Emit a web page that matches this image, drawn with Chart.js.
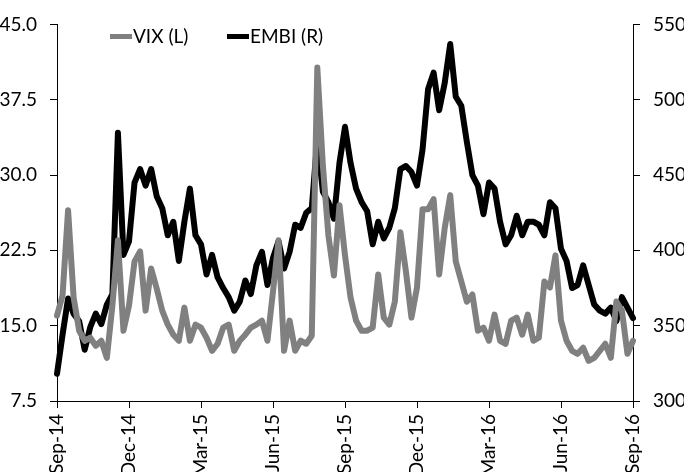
<!DOCTYPE html>
<html>
<head>
<meta charset="utf-8">
<script src="https://cdn.jsdelivr.net/npm/chart.js@4/dist/chart.umd.min.js"></script>
<style>
    html, body { margin: 0; padding: 0; background: #fff; }
    #wrap { width: 684px; height: 472px; }
</style>
</head>
<body>
<div id="wrap"><canvas id="chart" width="684" height="472"></canvas></div>
<script>
// Weekly readings, Sep-14 to Sep-16 (105 weeks)
var vixValues = [
    16, 18, 26.5, 17.8, 14.5, 13.5, 13.8, 13, 13.5, 11.8,
    17, 23.5, 14.5, 17, 21.4, 22.4, 16.5, 20.7, 18.7, 16.5,
    15.1, 14.1, 13.5, 16.8, 13.5, 15.1, 14.8, 13.8, 12.5, 13.2,
    14.8, 15.1, 12.5, 13.5, 14.1, 14.8, 15.1, 15.5, 13.5, 18.4,
    23.5, 12.5, 15.5, 12.5, 13.5, 13.2, 14, 40.7, 31, 24,
    20, 27, 22, 17.8, 15.5, 14.5, 14.5, 14.8, 20.1, 15.8,
    15.1, 17.4, 24.3, 20.4, 15.8, 18.8, 26.6, 26.6, 27.6, 20.1,
    24.7, 28, 21.4, 19.4, 17.4, 18.1, 14.5, 14.8, 13.5, 16.1,
    13.5, 13.2, 15.5, 15.8, 14.1, 16.1, 13.5, 13.8, 19.4, 18.8,
    22, 15.5, 13.5, 12.5, 12.2, 12.8, 11.5, 11.8, 12.5, 13.2,
    11.8, 17.4, 16.5, 12.2, 13.5
];
var embiValues = [
    318, 344, 368, 358, 353, 334, 349, 358, 351, 364,
    371, 478, 397, 406, 445, 454, 443, 454, 436, 428,
    410, 419, 393, 419, 441, 410, 404, 384, 397, 382,
    375, 369, 360, 366, 380, 371, 390, 399, 377, 395,
    406, 388, 399, 417, 415, 425, 428, 474, 439, 432,
    421, 458, 482, 458, 441, 432, 426, 404, 419, 408,
    415, 428, 454, 456, 452, 443, 467, 507, 518, 493,
    511, 537, 502, 496, 472, 450, 443, 424, 445, 441,
    419, 404, 410, 423, 410, 419, 419, 417, 410, 432,
    428, 401, 393, 375, 377, 390, 377, 364, 360, 358,
    362, 353, 369, 362, 355
];
var quarterLabels = ['Sep-14', 'Dec-14', 'Mar-15', 'Jun-15', 'Sep-15', 'Dec-15', 'Mar-16', 'Jun-16', 'Sep-16'];
var weeksPerQuarter = 13;

var fontFamily = 'Lato, "Open Sans", sans-serif';
var tickFont = { family: fontFamily, size: 19 };

// Legend drawn inside the plot, to the left like the original
var insideLegend = {
    id: 'insideLegend',
    afterDraw: function(chart) {
        var ctx = chart.ctx;
        var items = [
            { ds: chart.data.datasets[0], x: 110 },
            { ds: chart.data.datasets[1], x: 227 }
        ];
        ctx.save();
        ctx.font = '19px ' + fontFamily;
        ctx.textBaseline = 'middle';
        ctx.textAlign = 'left';
        items.forEach(function(it) {
            ctx.fillStyle = it.ds.borderColor;
            ctx.fillRect(it.x, 34, 22, 5);
            ctx.fillStyle = '#000';
            ctx.fillText(it.ds.label, it.x + 23, 37);
        });
        ctx.restore();
    }
};

var ctx = document.getElementById('chart').getContext('2d');
var chart = new Chart(ctx, {
    type: 'line',
    data: {
        labels: vixValues.map(function(v, i) { return i; }),
        datasets: [{
            label: 'VIX (L)',
            data: vixValues,
            yAxisID: 'y',
            borderColor: '#808080',
            backgroundColor: '#808080',
            borderWidth: 6,
            pointRadius: 0,
            borderJoinStyle: 'round',
            borderCapStyle: 'round',
            tension: 0
        }, {
            label: 'EMBI (R)',
            data: embiValues,
            yAxisID: 'y1',
            borderColor: '#000000',
            backgroundColor: '#000000',
            borderWidth: 6,
            pointRadius: 0,
            borderJoinStyle: 'round',
            borderCapStyle: 'round',
            tension: 0
        }]
    },
    options: {
        responsive: false,
        animation: false,
        layout: { padding: { top: 20, left: 0, right: 0, bottom: 0 } },
        plugins: {
            legend: { display: false },
            tooltip: { enabled: false }
        },
        scales: {
            x: {
                offset: false,
                grid: { drawOnChartArea: false, drawTicks: true, tickLength: 7, color: '#000' },
                border: { display: true, color: '#000', width: 1 },
                ticks: {
                    autoSkip: false,
                    minRotation: 90,
                    maxRotation: 90,
                    padding: 6,
                    color: '#000',
                    font: tickFont,
                    callback: function(value, index) {
                        return index % weeksPerQuarter === 0 ? quarterLabels[index / weeksPerQuarter] : null;
                    }
                },
                afterFit: function(scale) { scale.height = 71; }
            },
            y: {
                position: 'left',
                min: 7.5,
                max: 45,
                grid: { drawOnChartArea: false, drawTicks: true, tickLength: 7, color: '#000' },
                border: { display: true, color: '#000', width: 1 },
                ticks: {
                    stepSize: 7.5,
                    padding: 13,
                    color: '#000',
                    font: tickFont,
                    callback: function(v) { return v.toFixed(1); }
                },
                afterFit: function(scale) { scale.width = 57; }
            },
            y1: {
                position: 'right',
                min: 300,
                max: 550,
                grid: { drawOnChartArea: false, drawTicks: true, tickLength: 7, color: '#000' },
                border: { display: true, color: '#000', width: 1 },
                ticks: {
                    stepSize: 50,
                    padding: 13,
                    color: '#000',
                    font: tickFont
                },
                afterFit: function(scale) { scale.width = 51; }
            }
        }
    },
    plugins: [insideLegend]
});
</script>
</body>
</html>
